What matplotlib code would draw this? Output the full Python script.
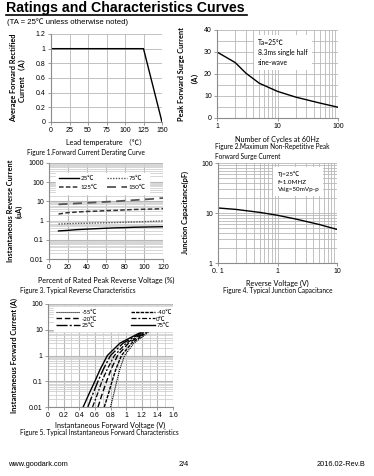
import matplotlib
matplotlib.use("Agg")
import matplotlib.pyplot as plt
from matplotlib.ticker import NullFormatter, LogLocator, MultipleLocator

# ---------------- data ----------------
f1_temp = [0, 125, 150]
f1_current = [1.0, 1.0, 0.0]

f2_cycles = [1, 2, 3, 5, 10, 20, 50, 100]
f2_surge = [30, 25.2, 20.4, 15.8, 12.1, 9.5, 6.8, 4.9]

f3_voltage_pct = [10, 20, 30, 40, 50, 60, 70, 80, 90, 100, 110, 120]
f3_25C = [0.29, 0.31, 0.34, 0.36, 0.38, 0.40, 0.42, 0.43, 0.45, 0.46, 0.47, 0.48]
f3_75C = [0.66, 0.69, 0.71, 0.73, 0.75, 0.77, 0.79, 0.82, 0.85, 0.88, 0.92, 0.97]
f3_125C = [2.2, 2.6, 2.8, 3.0, 3.1, 3.3, 3.4, 3.6, 3.8, 3.9, 4.0, 4.2]
f3_150C = [7.0, 7.4, 7.9, 8.4, 8.9, 9.5, 10.1, 10.9, 11.7, 12.6, 13.6, 15.0]
f3_labels = ["25℃", "75℃", "125℃", "150℃"]

f4_voltage = [0.1, 0.2, 0.5, 1, 2, 5, 10]
f4_cap = [12.6, 11.8, 10.3, 9.0, 7.6, 5.9, 4.7]

f5_current = [0.01, 0.03, 0.1, 0.3, 1, 3, 10]
f5_m55 = [0.80, 0.84, 0.88, 0.92, 0.98, 1.10, 1.33]
f5_m40 = [0.72, 0.77, 0.82, 0.87, 0.94, 1.07, 1.31]
f5_m20 = [0.64, 0.69, 0.75, 0.81, 0.89, 1.03, 1.30]
f5_0 = [0.57, 0.63, 0.69, 0.76, 0.85, 1.00, 1.29]
f5_25 = [0.51, 0.57, 0.64, 0.71, 0.80, 0.96, 1.27]
f5_75 = [0.45, 0.52, 0.60, 0.67, 0.76, 0.92, 1.25]
f5_labels = ["-55℃", "-40℃", "-20℃", "0℃", "25℃", "75℃"]

# ---------------- layout ----------------
W, H = 374, 476
fig = plt.figure(figsize=(W / 100, H / 100), dpi=100)
fig.patch.set_facecolor("white")

LBL = ["Lato", "Noto Sans CJK SC", "DejaVu Sans"]
TCK = ["Liberation Sans", "Noto Sans CJK SC", "DejaVu Sans"]
GRID = "#b8b8b8"
SP = "#8c8c8c"
TS = 5.0   # tick label size
XL = 5.2   # axis label size


def ax_px(x0, y0, x1, y1):
    return fig.add_axes([x0 / W, 1 - y1 / H, (x1 - x0) / W, (y1 - y0) / H])


def style(ax):
    for s in ["top", "right"]:
        ax.spines[s].set_visible(False)
    for s in ["left", "bottom"]:
        ax.spines[s].set_color(SP)
        ax.spines[s].set_linewidth(0.8)
    ax.tick_params(which="both", length=2, width=0.6, color=SP, labelsize=TS, pad=1.8)
    ax.tick_params(which="minor", length=0)
    for t in ax.get_xticklabels() + ax.get_yticklabels():
        t.set_family(TCK)


def ftext(x, y, s, size=5.0, ha="left", va="center", weight="normal", fam=LBL, **kw):
    fig.text(x / W, 1 - y / H, s, fontsize=size, ha=ha, va=va, weight=weight, family=fam, **kw)


# title
ftext(6, 8, "Ratings and Characteristics Curves", size=10.2, weight="heavy",
      fam=["Liberation Sans", "DejaVu Sans"])
fig.add_artist(plt.Line2D([6 / W, 247 / W], [1 - 14.5 / H, 1 - 14.5 / H], color="black", lw=1.2))
ftext(7, 22, "(TA = 25℃ unless otherwise noted)", size=5.6, fam=["Liberation Sans", "Noto Sans CJK SC"])

# ---------------- Figure 1 ----------------
ax1 = ax_px(51, 34, 162, 122)
ax1.plot(f1_temp, f1_current, color="black", lw=1.0)
ax1.set_xlim(0, 150)
ax1.set_ylim(0, 1.2)
ax1.set_xticks(range(0, 151, 25))
ax1.set_yticks([0, 0.2, 0.4, 0.6, 0.8, 1.0, 1.2])
ax1.set_yticklabels(["0", "0.2", "0.4", "0.6", "0.8", "1", "1.2"])
ax1.grid(True, color=GRID, lw=0.6)
ax1.set_axisbelow(True)
style(ax1)
ax1.set_xlabel("Lead temperature （℃）", fontsize=XL, family=LBL, labelpad=3)
ax1.set_ylabel("Average Forward Rectified\nCurrent （A）", fontsize=5.3, family=LBL,
               weight="bold", labelpad=7, linespacing=1.3)
ftext(27, 152, "Figure 1.Forward Current Derating Curve", size=4.7)

# ---------------- Figure 2 ----------------
ax2 = ax_px(217, 30, 338, 118)
ax2.plot(f2_cycles, f2_surge, color="black", lw=1.0)
ax2.set_xscale("log")
ax2.set_xlim(1, 100)
ax2.set_ylim(0, 40)
ax2.set_yticks([0, 10, 20, 30, 40])
ax2.yaxis.set_minor_locator(MultipleLocator(5))
ax2.set_xticks([1, 10, 100])
ax2.set_xticklabels(["1", "10", "100"])
ax2.xaxis.set_minor_locator(LogLocator(base=10, subs=range(2, 10)))
ax2.xaxis.set_minor_formatter(NullFormatter())
ax2.grid(True, which="both", color=GRID, lw=0.6)
ax2.set_axisbelow(True)
style(ax2)
ax2.set_xlabel("Number of Cycles at 60Hz", fontsize=XL, family=LBL, labelpad=4)
ax2.set_ylabel("Peak Forward Surge Current\n（A）", fontsize=5.3, family=LBL,
               weight="bold", labelpad=7, linespacing=1.3)
ax2.text(0.34, 0.9, "Ta=25℃\n8.3ms single half\nsine-wave", transform=ax2.transAxes,
         fontsize=4.9, family=LBL, va="top", ha="left", linespacing=1.5,
         bbox=dict(facecolor="white", edgecolor="none", pad=3))
ftext(215, 147, "Figure 2.Maximum Non-Repetitive Peak", size=4.7)
ftext(215, 156, "Forward Surge Current", size=4.7)

# ---------------- Figure 3 ----------------
ax3 = ax_px(49, 163, 163, 259)
ax3.plot(f3_voltage_pct, f3_25C, color="black", lw=1.0, ls="-", label=f3_labels[0])
ax3.plot(f3_voltage_pct, f3_75C, color="#555555", lw=1.0, ls=(0, (1, 1)), label=f3_labels[1])
ax3.plot(f3_voltage_pct, f3_125C, color="#333333", lw=1.1, ls=(0, (3, 1.5)), label=f3_labels[2])
ax3.plot(f3_voltage_pct, f3_150C, color="#555555", lw=1.3, ls=(0, (5, 3)), label=f3_labels[3])
ax3.set_yscale("log")
ax3.set_xlim(0, 120)
ax3.set_ylim(0.01, 1000)
ax3.set_xticks(range(0, 121, 20))
ax3.set_yticks([0.01, 0.1, 1, 10, 100, 1000])
ax3.set_yticklabels(["0.01", "0.1", "1", "10", "100", "1000"])
ax3.yaxis.set_minor_locator(LogLocator(base=10, subs=range(2, 10)))
ax3.yaxis.set_minor_formatter(NullFormatter())
ax3.grid(True, which="major", color=GRID, lw=0.8)
ax3.grid(True, which="minor", axis="y", color="#d0d0d0", lw=0.6)
ax3.set_axisbelow(True)
style(ax3)
h3, l3 = ax3.get_legend_handles_labels()
order3 = [0, 2, 1, 3]
ax3.legend([h3[i] for i in order3], [l3[i] for i in order3], ncol=2, loc="upper left",
           bbox_to_anchor=(0.03, 0.93),
           frameon=True, fancybox=False, edgecolor="white", framealpha=1,
           handlelength=3.2, columnspacing=1.5, handletextpad=0.3, borderpad=0.5,
           labelspacing=0.6, prop={"family": LBL, "size": 4.5})
ax3.set_xlabel("Percent of Rated Peak Reverse Voltage (%)", fontsize=XL, family=LBL, labelpad=4)
ax3.set_ylabel("Instantaneous Reverse Current\n(uA)", fontsize=5.3, family=LBL,
               weight="bold", labelpad=4, linespacing=1.3)
ftext(20, 291, "Figure 3. Typical Reverse Characteristics", size=4.7)

# ---------------- Figure 4 ----------------
ax4 = ax_px(218, 163, 337, 263)
ax4.plot(f4_voltage, f4_cap, color="black", lw=1.0)
ax4.set_xscale("log")
ax4.set_yscale("log")
ax4.set_xlim(0.1, 10)
ax4.set_ylim(1, 100)
ax4.set_xticks([0.1, 1, 10])
ax4.set_xticklabels(["0. 1", "1", "10"])
ax4.set_yticks([1, 10, 100])
ax4.set_yticklabels(["1", "10", "100"])
for a in (ax4.xaxis, ax4.yaxis):
    a.set_minor_locator(LogLocator(base=10, subs=range(2, 10)))
    a.set_minor_formatter(NullFormatter())
ax4.grid(True, which="both", color=GRID, lw=0.6)
ax4.set_axisbelow(True)
style(ax4)
ax4.text(0.5, 0.92, "Tj=25℃\nf=1.0MHZ\nVsig=50mVp-p", transform=ax4.transAxes,
         fontsize=4.5, family=LBL, va="top", ha="left", linespacing=1.6,
         bbox=dict(facecolor="white", edgecolor="none", pad=3))
ax4.set_xlabel("Reverse Voltage (V)", fontsize=XL, family=LBL, labelpad=3)
ax4.set_ylabel("Junction Capacitance(pF)", fontsize=5.3, family=LBL, weight="bold", labelpad=9)
ftext(278, 291, "Figure 4. Typical Junction Capacitance", size=4.7, ha="center")

# ---------------- Figure 5 ----------------
ax5 = ax_px(48, 304, 173, 407)
styles5 = [
    (f5_m55, (0, (1, 0.8)), 0.8),
    (f5_m40, (0, (2.5, 0.8)), 1.0),
    (f5_m20, (0, (4, 2)), 1.0),
    (f5_0, (0, (4, 1.5, 1.5, 1.5)), 0.9),
    (f5_25, (0, (8, 1.5, 1.5, 1.5)), 1.0),
    (f5_75, "-", 1.0),
]
for (vals, ls, lw), lab in zip(styles5, f5_labels):
    ax5.plot(vals, f5_current, color="black", lw=lw, ls=ls, label=lab)
ax5.set_yscale("log")
ax5.set_xlim(0, 1.6)
ax5.set_ylim(0.01, 100)
ax5.set_xticks([0, 0.2, 0.4, 0.6, 0.8, 1.0, 1.2, 1.4, 1.6])
ax5.set_xticklabels(["0", "0.2", "0.4", "0.6", "0.8", "1", "1.2", "1.4", "1.6"])
ax5.xaxis.set_minor_locator(MultipleLocator(0.1))
ax5.set_yticks([0.01, 0.1, 1, 10, 100])
ax5.set_yticklabels(["0.01", "0.1", "1", "10", "100"])
ax5.yaxis.set_minor_locator(LogLocator(base=10, subs=range(2, 10)))
ax5.yaxis.set_minor_formatter(NullFormatter())
ax5.grid(True, which="major", color=GRID, lw=0.8)
ax5.grid(True, which="minor", color="#d0d0d0", lw=0.6)
ax5.set_axisbelow(True)
style(ax5)
h5, l5 = ax5.get_legend_handles_labels()
order5 = [0, 2, 4, 1, 3, 5]
ax5.legend([h5[i] for i in order5], [l5[i] for i in order5], ncol=2, loc="upper left",
           bbox_to_anchor=(0.02, 1.0),
           frameon=True, fancybox=False, edgecolor="white", framealpha=1,
           handlelength=4.0, columnspacing=5.5, handletextpad=0.2, borderpad=0.4,
           labelspacing=0.25, prop={"family": LBL, "size": 4.4})
ax5.set_xlabel("Instantaneous Forward Voltage (V)", fontsize=XL, family=LBL, labelpad=1.5)
ax5.set_ylabel("Instantaneous Forward Current (A)", fontsize=5.3, family=LBL, weight="bold", labelpad=8)
ftext(20, 433, "Figure 5. Typical Instantaneous Forward Characteristics", size=4.7)

# footer
FOOT = ["Liberation Sans", "DejaVu Sans"]
ftext(8, 465, "www.goodark.com", size=5.3, fam=FOOT)
ftext(179, 465, "2/4", size=5.3, fam=FOOT)
ftext(365, 465, "2016.02-Rev.B", size=5.3, ha="right", fam=FOOT)

fig.savefig("out.png", dpi=100)
